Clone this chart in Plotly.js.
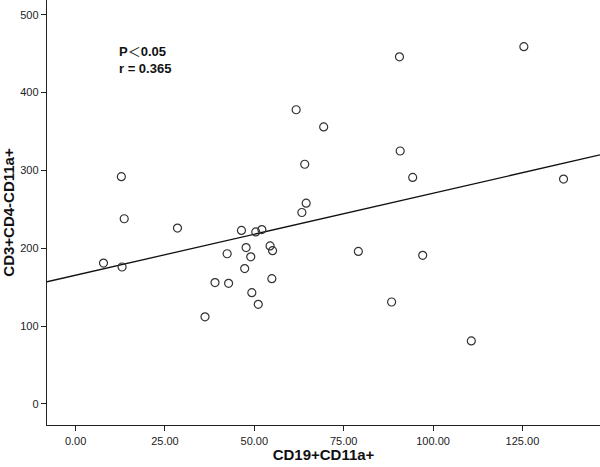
<!DOCTYPE html>
<html>
<head>
<meta charset="utf-8">
<script src="https://cdn.plot.ly/plotly-3.0.1.min.js"></script>
<style>html,body{margin:0;padding:0;background:#fff;}#chart{width:600px;height:467px;}</style>
</head>
<body>
<div id="chart"></div>
<script>
// CD19+CD11a+ (x) vs CD3+CD4-CD11a+ (y)
const cd19 = [7.8, 13.0, 28.5, 12.8, 13.6, 46.4, 50.4, 52.1, 61.7,
  42.4, 47.7, 49.0, 47.3, 54.4, 55.1, 54.9, 39.0, 42.8, 49.3, 51.1, 36.2,
  90.6, 125.4, 69.4, 64.1, 90.8, 94.3, 136.5, 64.5, 63.3,
  79.1, 97.1, 88.4, 110.7];
const cd3cd4 = [181, 176, 226, 292, 238, 223, 221, 224, 378,
  193, 201, 189, 174, 203, 197, 161, 156, 155, 143, 128, 112,
  446, 459, 356, 308, 325, 291, 289, 258, 246,
  196, 191, 131, 81];
// fit line (ends at axis limits)
const fitX = [-8, 146.7];
const fitY = [157, 320];
const xTicks = [0, 25, 50, 75, 100, 125];
const xTickText = ["0.00", "25.00", "50.00", "75.00", "100.00", "125.00"];
const yTicks = [0, 100, 200, 300, 400, 500];

const font = "Arial, 'Liberation Sans', sans-serif";
const traces = [
  {x: fitX, y: fitY, mode: 'lines', type: 'scatter',
   line: {color: '#111', width: 1.3}, hoverinfo: 'skip'},
  {x: cd19, y: cd3cd4, mode: 'markers', type: 'scatter',
   marker: {symbol: 'circle-open', size: 8, color: '#333', line: {width: 1.2, color: '#333'}}}
];
const layout = {
  width: 600, height: 467,
  margin: {l: 47, r: 0, t: 0, b: 42},
  paper_bgcolor: '#fff', plot_bgcolor: '#fff',
  showlegend: false,
  font: {family: font, color: '#222', size: 11},
  xaxis: {
    range: [-8, 146.7], tickvals: xTicks, ticktext: xTickText,
    showgrid: false, zeroline: false, showline: true, linecolor: '#222', linewidth: 1.3,
    ticks: 'outside', ticklen: 5, tickcolor: '#222', tickfont: {size: 11, family: font},
    title: {text: '<b>CD19+CD11a+</b>', font: {size: 15, family: font, color: '#111'}, standoff: 4}
  },
  yaxis: {
    range: [-27, 519], tickvals: yTicks,
    showgrid: false, zeroline: false, showline: true, linecolor: '#222', linewidth: 1.3,
    ticks: 'outside', ticklen: 5, tickcolor: '#222', tickfont: {size: 11, family: font},
    title: {text: '<b>CD3+CD4-CD11a+</b>', font: {size: 15, family: font, color: '#111'}, standoff: 6}
  },
  annotations: [
    {xref: 'paper', yref: 'paper', x: (117-47)/553, y: 1-58/425, xanchor: 'left', yanchor: 'middle',
     align: 'left',
     text: "<b>P</b><span style=\"font-family:'Noto Sans CJK SC';font-weight:normal\">＜</span><b>0.05</b><br><b>r = 0.365</b>",
     showarrow: false, font: {size: 13, family: font, color: '#111'}}
  ]
};
Plotly.newPlot('chart', traces, layout, {displayModeBar: false, staticPlot: true});
</script>
</body>
</html>
